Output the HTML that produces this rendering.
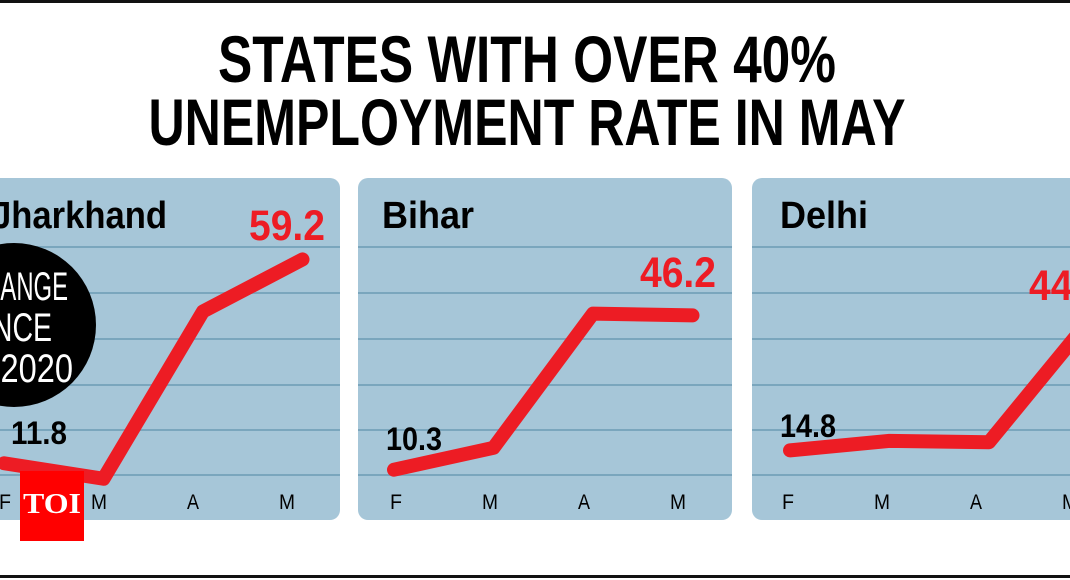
<!DOCTYPE html>
<html><head><meta charset="utf-8">
<style>
html,body{margin:0;padding:0;background:#fff;width:1070px;height:580px;overflow:hidden}
svg{display:block;font-family:"Liberation Sans",sans-serif}
</style></head>
<body>
<svg id="chart" width="1070" height="580" viewBox="0 0 1070 580">
  <rect x="0" y="0" width="1070" height="3" fill="#111"/>
  <rect x="0" y="575" width="1070" height="3" fill="#111"/>
  <text x="527" y="82" text-anchor="middle" font-size="66" font-weight="bold" textLength="618" lengthAdjust="spacingAndGlyphs">STATES WITH OVER 40%</text>
  <text x="527" y="145" text-anchor="middle" font-size="66" font-weight="bold" textLength="757" lengthAdjust="spacingAndGlyphs">UNEMPLOYMENT RATE IN MAY</text>
  <g id="panels"></g>
  <g>
    <circle cx="14" cy="325" r="82" fill="#000"/>
    <text x="68" y="300" text-anchor="end" fill="#fff" font-size="40" textLength="102" lengthAdjust="spacingAndGlyphs">CHANGE</text>
    <text x="52" y="341" text-anchor="end" fill="#fff" font-size="40" textLength="87" lengthAdjust="spacingAndGlyphs">SINCE</text>
    <text x="73" y="382" text-anchor="end" fill="#fff" font-size="40" textLength="145" lengthAdjust="spacingAndGlyphs">FEB 2020</text>
  </g>
  <g>
    <rect x="20" y="471" width="64" height="70" fill="#f00"/>
    <text x="52" y="513" text-anchor="middle" fill="#fff" font-family="Liberation Serif, serif" font-weight="bold" font-size="28" textLength="58" lengthAdjust="spacingAndGlyphs">TOI</text>
  </g>
</svg>
<script>
const months = ["F","M","A","M"];
const states = ["Jharkhand","Bihar","Delhi"];
const jharkhandValues = [11.8, 8.2, 47.1, 59.2];
const biharValues = [10.3, 15.4, 46.6, 46.2];
const delhiValues = [14.8, 17.0, 16.7, 44.9];
const startLabels = ["11.8","10.3","14.8"];
const endLabels = ["59.2","46.2","44.9"];

const NS="http://www.w3.org/2000/svg";
const g=document.getElementById('panels');
function mk(tag,attrs,parent){const e=document.createElementNS(NS,tag);for(const k in attrs)e.setAttribute(k,attrs[k]);(parent||g).appendChild(e);return e;}
const yScale=v=>514-v*4.3;
const panelDefs=[
  {x:-10,w:350,f:4,lf:5,title:-8,titleLen:175,endX:325,endY:240,startX:11,startY:444},
  {x:358,w:374,f:394,lf:396,title:382,titleLen:92,endX:716,endY:287,startX:386,startY:450},
  {x:752,w:340,f:790,lf:788,title:780,titleLen:88,endX:1105,endY:300,startX:780,startY:437}
];
const seriesAll=[jharkhandValues,biharValues,delhiValues];
const gridY=[247,293,339,385,430,475];
panelDefs.forEach((p,i)=>{
  const pg=mk('g',{});
  
  
  const bg=mk('rect',{x:p.x,y:178,width:p.w,height:342,rx:10,fill:'#a6c6d8'},pg);
  
  
  gridY.forEach(y=>{
    const l=mk('line',{x1:p.x,x2:p.x+p.w,y1:y,y2:y,stroke:'#7aa6bd','stroke-width':2},pg);
    
    
  });
  const t=mk('text',{x:p.title,y:228,'font-size':38,'font-weight':'bold',textLength:p.titleLen,lengthAdjust:'spacingAndGlyphs'},pg);
  t.textContent=states[i];
  
  
  months.forEach((m,j)=>{
    const a=mk('text',{x:p.lf+j*94,y:509,'text-anchor':'middle','font-size':21,textLength:m==='M'?16:12,lengthAdjust:'spacingAndGlyphs'},pg);
    a.textContent=m;
    
    
  });
  const vals=seriesAll[i];
  const pts=vals.map((v,j)=>(p.f+j*99.5)+','+yScale(v)).join(' ');
  const pl=mk('polyline',{points:pts,fill:'none',stroke:'#ed1c24','stroke-width':14,'stroke-linecap':'round','stroke-linejoin':'round'},pg);
  
  
  const s=mk('text',{x:p.startX,y:p.startY,'font-size':32,'font-weight':'bold',textLength:56,lengthAdjust:'spacingAndGlyphs'},pg);
  s.textContent=startLabels[i];
  
  
  const e=mk('text',{x:p.endX,y:p.endY,'text-anchor':'end','font-size':43,'font-weight':'bold',fill:'#ed1c24',textLength:76,lengthAdjust:'spacingAndGlyphs'},pg);
  e.textContent=endLabels[i];
  
  
});
</script>
</body></html>
